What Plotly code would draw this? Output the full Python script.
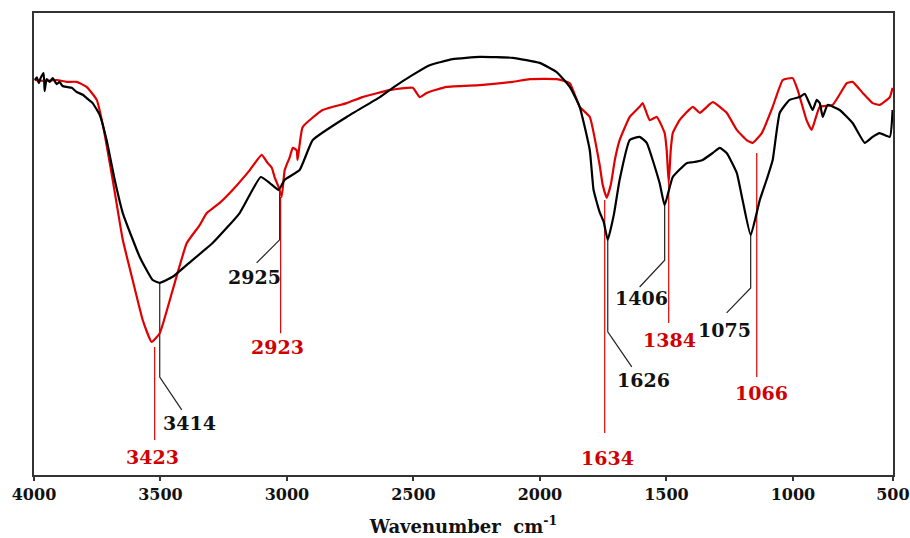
import plotly.graph_objects as go

# ---- data (wavenumber on the drawn axis, transmittance %) ----
black_wn = [3997, 3989, 3981, 3974, 3962, 3958, 3950, 3938, 3926, 3910, 3899, 3887, 3871, 3851, 3831,
            3807, 3788, 3768, 3740, 3713, 3681, 3649, 3582, 3531, 3503, 3452, 3396, 3294, 3187, 3104,
            3068, 3033, 3009, 2950, 2898, 2764, 2633, 2582, 2503, 2436, 2345, 2238, 2108, 2001, 1934,
            1882, 1843, 1803, 1788, 1764, 1748, 1732, 1708, 1685, 1645, 1606, 1578, 1527, 1507, 1475,
            1420, 1396, 1357, 1317, 1289, 1262, 1222, 1199, 1167, 1131, 1104, 1080, 1052, 1013, 973,
            953, 922, 906, 894, 882, 863, 815, 764, 716, 685, 657, 617, 606]
black_T = [85.5, 86.1, 84.8, 85.9, 87.0, 83.1, 85.7, 85.1, 85.9, 84.6, 85.1, 84.2, 84.0, 83.8, 82.9,
           82.3, 81.4, 80.5, 77.9, 72.5, 63.9, 56.7, 47.2, 42.2, 41.6, 42.9, 45.5, 50.2, 56.7, 64.5,
           63.2, 61.7, 63.9, 66.0, 72.5, 77.5, 81.8, 83.8, 86.6, 88.7, 90.0, 90.5, 90.3, 89.2, 87.2,
           84.0, 79.7, 70.3, 61.7, 56.9, 54.8, 50.9, 56.3, 63.9, 72.5, 73.2, 71.9, 63.2, 58.4, 64.5,
           67.5, 67.7, 68.2, 69.7, 70.8, 69.7, 65.4, 59.5, 51.9, 59.5, 63.9, 68.2, 78.4, 81.2, 81.8,
           82.5, 79.0, 81.2, 80.5, 77.5, 80.1, 79.0, 76.2, 71.9, 73.2, 74.0, 73.2, 79.0]

red_wn = [3997, 3958, 3910, 3871, 3831, 3792, 3752, 3728, 3689, 3649, 3610, 3570, 3535, 3503, 3452,
          3396, 3345, 3317, 3266, 3215, 3147, 3100, 3076, 3060, 3049, 3033, 3021, 3009, 2989, 2977,
          2962, 2958, 2938, 2859, 2764, 2701, 2594, 2503, 2475, 2448, 2369, 2238, 2108, 2040, 1934,
          1882, 1843, 1803, 1764, 1752, 1736, 1720, 1704, 1685, 1645, 1606, 1594, 1566, 1538, 1507,
          1499, 1491, 1483, 1475, 1448, 1396, 1368, 1317, 1262, 1222, 1183, 1159, 1123, 1080, 1040,
          1001, 981, 946, 926, 894, 843, 787, 764, 724, 685, 657, 617, 606]
red_T = [85.5, 85.3, 85.5, 85.1, 85.1, 84.0, 81.2, 75.8, 63.9, 50.9, 42.2, 33.5, 28.8, 30.7, 40.0,
         50.2, 54.1, 56.7, 58.9, 61.7, 66.0, 69.3, 67.5, 66.5, 64.5, 62.3, 60.2, 66.0, 68.8, 70.8,
         70.3, 68.2, 75.3, 79.0, 80.5, 81.8, 83.3, 83.8, 81.8, 82.7, 84.0, 84.4, 85.1, 85.7, 85.7,
         84.8, 79.7, 77.5, 67.1, 62.8, 60.0, 62.8, 68.2, 72.5, 77.5, 79.7, 80.5, 76.8, 77.5, 74.0,
         70.3, 63.2, 70.3, 74.0, 76.8, 79.7, 78.4, 80.7, 78.4, 74.7, 72.5, 71.9, 74.0, 79.7, 85.5,
         85.9, 83.3, 76.8, 74.7, 79.7, 80.1, 84.8, 85.1, 82.7, 80.5, 80.1, 81.8, 83.8]

tick_vals = [4000, 3500, 3000, 2500, 2000, 1500, 1000, 605]
tick_text = ["4000", "3500", "3000", "2500", "2000", "1500", "1000", "500"]

# peak labels: text, leader-line path (wn, T), label position (wn, T)
red_labels = ["3423", "2923", "1634", "1384", "1066"]
red_line_wn = [[3523, 3523], [3025, 3025], [1744, 1744], [1491, 1491], [1143, 1143]]
red_line_T = [[27.7, 7.6], [60.2, 30.7], [59.5, 9.1], [63.2, 32.9], [69.7, 21.2]]
red_label_wn = [3531, 3037, 1732, 1488, 1123]
red_label_T = [3.9, 27.7, 3.7, 29.2, 17.7]

black_labels = ["3414", "2925", "1626", "1406", "1075"]
black_line_wn = [[3503, 3503, 3416], [3029, 3029, 3120], [1732, 1732, 1637], [1507, 1507, 1606], [1167, 1167, 1262]]
black_line_T = [[41.6, 21.2, 14.1], [61.7, 50.9, 45.9], [50.9, 31.0, 23.4], [58.4, 46.5, 40.7], [51.9, 40.5, 35.1]]
black_label_wn = [3384, 3128, 1590, 1598, 1270]
black_label_T = [11.3, 42.9, 20.6, 38.3, 31.4]

RED = "#e00000"
BLACK = "#000000"
FONT = "DejaVu Serif"

fig = go.Figure()

for wn, T in zip(red_line_wn, red_line_T):
    fig.add_trace(go.Scatter(x=wn, y=T, mode="lines", line=dict(color=RED, width=1.2),
                             hoverinfo="skip", showlegend=False))
for wn, T in zip(black_line_wn, black_line_T):
    fig.add_trace(go.Scatter(x=wn, y=T, mode="lines", line=dict(color="#222222", width=1.2),
                             hoverinfo="skip", showlegend=False))

fig.add_trace(go.Scatter(x=red_wn, y=red_T, mode="lines",
                         line=dict(color=RED, width=2.2, shape="spline", smoothing=0.4),
                         showlegend=False))
fig.add_trace(go.Scatter(x=black_wn, y=black_T, mode="lines",
                         line=dict(color=BLACK, width=2.2, shape="spline", smoothing=0.4),
                         showlegend=False))

for t, x, y in zip(red_labels, red_label_wn, red_label_T):
    fig.add_annotation(x=x, y=y, text=t, showarrow=False,
                       font=dict(family=FONT, size=19, color="#d00000", weight="bold"))
for t, x, y in zip(black_labels, black_label_wn, black_label_T):
    fig.add_annotation(x=x, y=y, text=t, showarrow=False,
                       font=dict(family=FONT, size=19, color="#111111", weight="bold"))

fig.update_layout(
    width=910, height=538,
    margin=dict(l=34, r=17, t=13, b=63, autoexpand=False),
    paper_bgcolor="white", plot_bgcolor="white",
    xaxis=dict(
        range=[4000, 604.4], tickvals=tick_vals, ticktext=tick_text,
        automargin=False,
        showgrid=False, zeroline=False, showline=True, mirror=True,
        linecolor="#333333", linewidth=1.5, ticks="outside", ticklen=4,
        tickcolor="#333333", tickwidth=1.5,
        tickfont=dict(family=FONT, size=16, color="#111111", weight="bold"),
        title=dict(text="Wavenumber  cm<sup>-1</sup>", standoff=17,
                   font=dict(family=FONT, size=18, color="#111111", weight="bold")),
    ),
    yaxis=dict(
        range=[0, 100], automargin=False, showgrid=False, zeroline=False, showline=True, mirror=True,
        linecolor="#333333", linewidth=1.5, showticklabels=False, ticks="",
    ),
)

fig.write_html("out.html")
